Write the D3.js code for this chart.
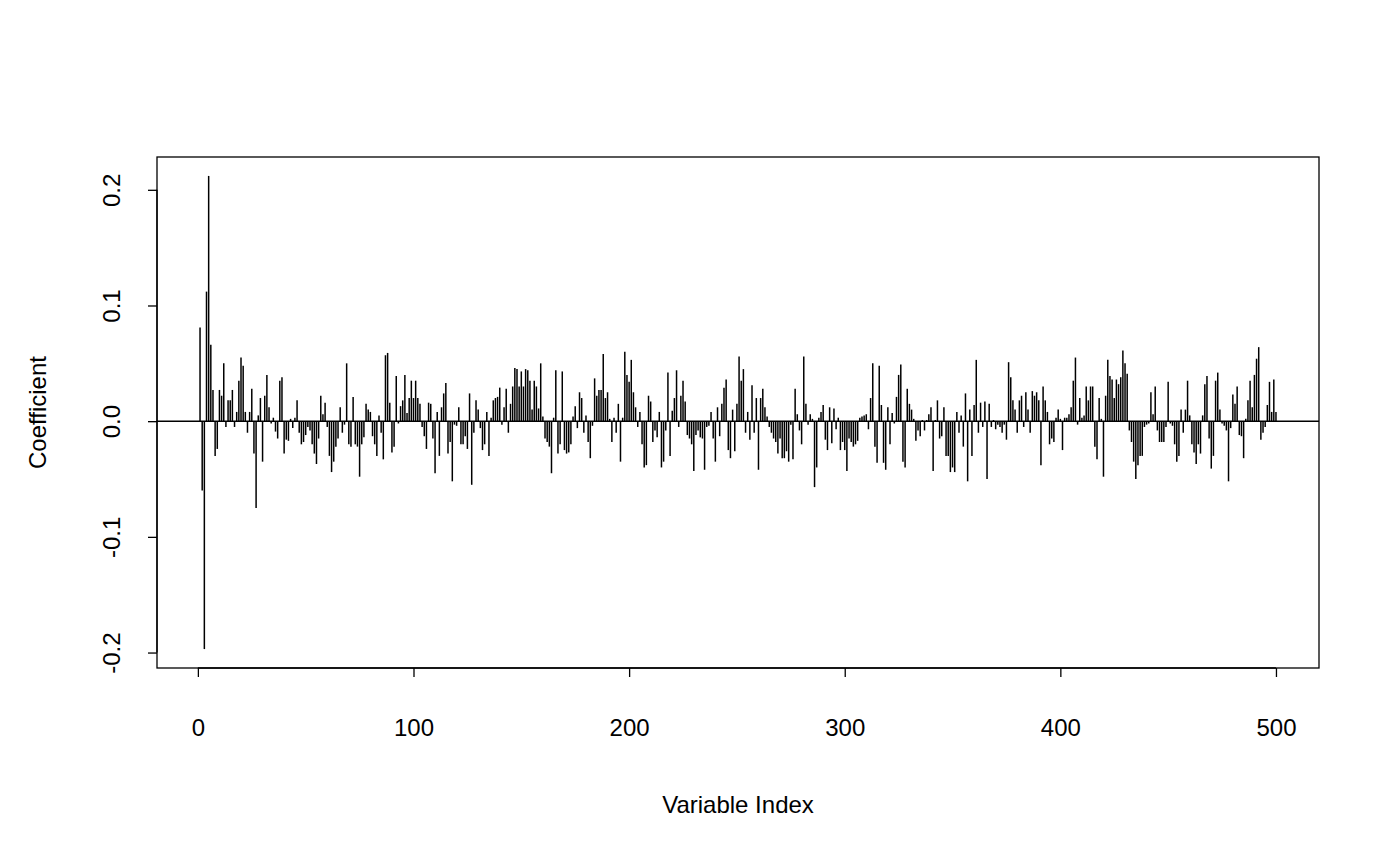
<!DOCTYPE html>
<html>
<head>
<meta charset="utf-8">
<script src="https://cdn.jsdelivr.net/npm/d3@7"></script>
<style>
  body { margin: 0; background: #fff; }
  text { font-family: "Liberation Sans", Arial, sans-serif; }
</style>
</head>
<body>
<svg id="chart" width="1400" height="865"></svg>
<script>
// coefficient per variable, index 1..500
var coef = [
  0.081,-0.06,-0.197,0.112,0.212,0.066,0.027,-0.03,-0.024,0.027,0.022,0.05,-0.005,0.018,0.018,0.027,-0.005,0.008,0.035,0.055,0.048,0.008,-0.01,0.008,0.028,-0.028,-0.075,0.005,0.02,-0.035,0.022,0.04,0.012,-0.002,0.003,-0.009,-0.015,0.035,0.038,-0.028,-0.016,-0.017,0.002,-0.006,0.003,0.018,-0.01,-0.02,-0.018,-0.012,
  -0.005,-0.008,-0.02,-0.028,-0.037,-0.015,0.022,0.006,0.016,-0.005,-0.03,-0.044,-0.035,-0.022,-0.015,0.012,-0.01,-0.003,0.05,-0.02,-0.022,0.021,-0.02,-0.022,-0.048,-0.02,-0.014,0.015,0.01,0.008,-0.013,-0.02,-0.03,0.005,-0.01,-0.033,0.057,0.059,0.016,-0.027,-0.022,0.039,-0.002,0.013,0.018,0.04,0.007,0.02,0.035,0.02,
  0.035,0.02,0.015,-0.005,-0.013,-0.024,0.016,0.015,-0.015,-0.045,0.008,-0.03,0.012,0.024,0.033,-0.028,-0.018,-0.052,-0.003,-0.004,0.012,-0.02,-0.02,-0.013,-0.024,0.024,-0.055,-0.01,0.018,0.01,-0.006,-0.025,-0.02,0.008,-0.03,0.003,0.018,0.02,0.021,0.029,-0.003,0.012,0.028,-0.01,0.015,0.03,0.046,0.045,0.03,0.043,
  0.03,0.045,0.044,0.035,0.01,0.035,0.03,0.011,0.05,0.004,-0.015,-0.018,-0.022,-0.045,0.003,0.044,-0.028,-0.02,0.043,-0.025,-0.028,-0.027,-0.02,0.004,0.013,-0.006,0.025,0.02,-0.01,0.005,-0.018,-0.032,-0.004,0.037,0.022,0.027,0.027,0.058,0.02,0.025,0.002,-0.018,0.003,-0.01,0.015,-0.035,0.003,0.06,0.04,0.034,
  0.053,0.025,0.012,-0.005,0.008,-0.02,-0.04,-0.038,0.022,0.017,-0.018,-0.008,-0.014,0.008,-0.04,-0.035,-0.008,0.042,-0.03,0.009,0.02,0.044,-0.005,0.022,0.035,0.017,-0.012,-0.015,-0.02,-0.043,-0.012,-0.008,-0.014,-0.015,-0.042,-0.005,-0.004,0.008,-0.015,-0.035,0.012,-0.013,0.015,0.029,0.036,-0.025,-0.032,0.01,-0.026,0.015,
  0.056,0.035,0.045,-0.01,0.008,-0.016,0.031,-0.01,0.02,-0.042,0.02,0.028,0.012,0.004,-0.005,-0.01,-0.015,-0.018,-0.028,-0.015,-0.032,-0.032,-0.026,-0.035,-0.003,-0.033,0.028,0.006,-0.008,-0.02,0.056,0.015,-0.003,0.006,0.002,-0.057,-0.04,0.003,0.008,0.014,-0.016,-0.025,0.012,-0.019,0.011,-0.007,0.003,-0.025,-0.018,-0.025,
  -0.043,-0.015,-0.018,-0.022,-0.02,-0.017,0.003,0.004,0.005,0.006,-0.007,0.02,0.05,-0.022,-0.036,0.048,0.014,-0.036,-0.042,0.012,-0.02,0.007,-0.002,0.021,0.04,0.049,-0.035,-0.04,0.028,0.015,0.01,0.002,-0.017,-0.008,-0.013,0.001,-0.008,0.001,0.006,0.012,-0.043,0.001,0.018,-0.015,-0.013,0.012,-0.03,-0.03,-0.044,-0.04,
  -0.044,0.008,-0.01,0.005,-0.022,0.024,-0.052,0.01,-0.03,0.014,0.053,-0.01,0.016,-0.005,0.017,-0.05,0.015,-0.005,0.001,-0.007,-0.003,-0.005,-0.01,-0.003,-0.016,0.051,0.038,0.018,0.01,-0.01,0.018,0.022,-0.005,0.025,0.01,-0.01,0.026,0.022,0.025,0.018,-0.038,0.03,0.018,0.008,-0.02,-0.015,-0.018,0.003,0.01,0.002,
  -0.025,0.003,0.003,0.006,0.012,0.035,0.055,-0.003,0.02,0.003,0.005,0.03,0.018,0.03,0.03,-0.022,-0.033,0.02,0.002,-0.048,0.022,0.053,0.039,0.036,0.02,0.036,0.032,0.038,0.061,0.05,0.041,-0.008,-0.018,-0.035,-0.05,-0.038,-0.03,-0.03,-0.005,-0.003,-0.002,0.025,0.006,0.03,-0.008,-0.018,-0.018,-0.018,-0.005,0.034,
  -0.002,-0.004,-0.02,-0.035,-0.03,0.01,-0.01,0.01,0.035,0.005,-0.02,-0.027,-0.037,-0.02,-0.028,0.005,0.032,0.039,-0.015,-0.041,-0.03,0.035,0.042,0.01,-0.002,-0.004,-0.008,-0.052,-0.006,0.023,0.015,0.03,-0.012,-0.013,-0.032,0.002,0.018,0.035,0.012,0.04,0.054,0.064,-0.016,-0.01,-0.005,0.014,0.034,0.008,0.036,0.008
];
var xTicks = [0, 100, 200, 300, 400, 500];
var yTicks = [-0.2, -0.1, 0.0, 0.1, 0.2];
var yTickLabels = ["-0.2", "-0.1", "0.0", "0.1", "0.2"];

var svg = d3.select("#chart");
var box = {left: 157, right: 1319, top: 157, bottom: 668};

// R style 4% padding on each side
var n = coef.length;
var xPad = (n - 1) * 0.04;
var x = d3.scaleLinear().domain([1 - xPad, n + xPad]).range([box.left, box.right]);
var yMin = d3.min(coef), yMax = d3.max(coef), yPad = (yMax - yMin) * 0.04;
var y = d3.scaleLinear().domain([yMin - yPad, yMax + yPad]).range([box.bottom, box.top]);

// spikes
svg.append("g").selectAll("line")
  .data(coef)
  .enter().append("line")
    .attr("x1", function(d, i) { return x(i + 1); })
    .attr("x2", function(d, i) { return x(i + 1); })
    .attr("y1", y(0))
    .attr("y2", function(d) { return y(d); })
    .attr("stroke", "#000")
    .attr("stroke-width", 1.5);

// zero line
svg.append("line")
  .attr("x1", box.left).attr("x2", box.right)
  .attr("y1", y(0)).attr("y2", y(0))
  .attr("stroke", "#000").attr("stroke-width", 1.5);

svg.append("rect")
  .attr("x", box.left).attr("y", box.top)
  .attr("width", box.right - box.left).attr("height", box.bottom - box.top)
  .attr("fill", "none").attr("stroke", "#000").attr("stroke-width", 1.3);

// x axis
var gx = svg.append("g").attr("transform", "translate(0," + box.bottom + ")")
  .call(d3.axisBottom(x).tickValues(xTicks).tickSize(9).tickPadding(42).tickFormat(d3.format("d")));
gx.select(".domain").attr("d", "M" + x(0) + ",0H" + x(500));

// y axis
var gy = svg.append("g").attr("transform", "translate(" + box.left + ",0)")
  .call(d3.axisLeft(y).tickValues(yTicks).tickSize(9).tickFormat(function(d, i) { return yTickLabels[i]; }));
gy.select(".domain").attr("d", "M0," + y(-0.2) + "V" + y(0.2));
gy.selectAll(".tick text")
  .attr("transform", "translate(-45,0) rotate(-90)")
  .attr("x", 0).attr("dy", "0.35em")
  .style("text-anchor", "middle");

svg.selectAll(".tick text").style("font-size", "24px").style("font-family", "Liberation Sans, Arial, sans-serif");
svg.selectAll(".domain, .tick line").attr("stroke-width", 1.3);

svg.append("text")
  .attr("x", (box.left + box.right) / 2).attr("y", 813)
  .attr("text-anchor", "middle").style("font-size", "24px")
  .text("Variable Index");

svg.append("text")
  .attr("transform", "translate(46," + (box.top + box.bottom) / 2 + ") rotate(-90)")
  .attr("text-anchor", "middle").style("font-size", "24px")
  .text("Coefficient");
</script>
</body>
</html>
